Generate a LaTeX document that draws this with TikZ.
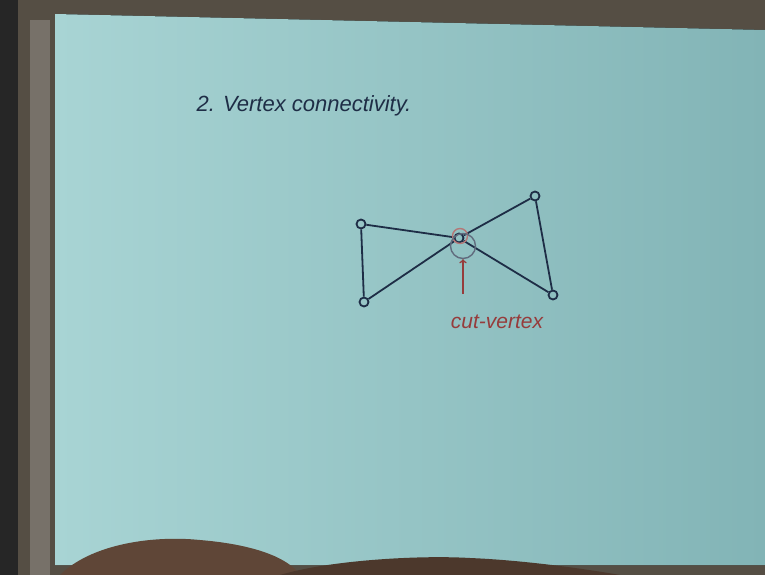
\documentclass[tikz,border=0pt]{standalone}
\usepackage{fontspec}
\setmainfont{Liberation Sans}
\begin{document}
\begin{tikzpicture}[x=1pt,y=-1pt,
  vtx/.style={circle,draw=ink,line width=1.8pt,inner sep=0pt,minimum size=9pt},
  edge/.style={draw=ink,line width=1.8pt},
  lbl/.style={text=ink,font=\fontsize{22}{26}\selectfont\itshape}]
\definecolor{ink}{RGB}{30,45,70}
\definecolor{redink}{RGB}{150,60,60}
\definecolor{paper}{RGB}{168,212,212}
\definecolor{papermid}{RGB}{155,200,200}
\definecolor{paperdark}{RGB}{130,180,182}
\definecolor{frame}{RGB}{85,78,68}
\definecolor{headc}{RGB}{95,70,55}
\useasboundingbox (0,0) rectangle (765,575);
\fill[black] (0,0) rectangle (765,575);
\fill[frame] (18,0) rectangle (765,575);
\fill[left color=paper, middle color=papermid, right color=paperdark] (55,14) -- (765,30) -- (765,565) -- (55,565) -- cycle;
\fill[black!85] (0,0) rectangle (18,575);
\fill[frame!80!white] (30,20) rectangle (50,575);
% head at bottom
\fill[headc] (60,575) .. controls (90,545) and (150,535) .. (200,540) .. controls (260,545) and (290,560) .. (300,575) -- cycle;
\fill[headc!80!black] (280,575) .. controls (330,560) and (420,555) .. (470,558) .. controls (520,560) and (580,568) .. (620,575) -- cycle;
% graph
\node[vtx] (a) at (361,224) {};
\node[vtx] (b) at (364,302) {};
\node[vtx] (c) at (459,238) {};
\node[vtx] (d) at (535,196) {};
\node[vtx] (e) at (553,295) {};
\draw[edge] (a) -- (b);
\draw[edge] (a) -- (c);
\draw[edge] (b) -- (c);
\draw[edge] (c) -- (d);
\draw[edge] (c) -- (e);
\draw[edge] (d) -- (e);
\node[circle,draw=redink!70,line width=1.4pt,minimum size=15pt,inner sep=0pt] (cc) at (460,236) {};
\node[circle,draw=ink!70,line width=1.4pt,minimum size=25pt,inner sep=0pt] (cb) at (463,246) {};
\node[text=redink,font=\fontsize{21}{24}\selectfont\itshape] (cut) at (497,322) {cut-vertex};
\coordinate (arrS) at (463,294);
\draw[redink,line width=1.6pt,->] (arrS) -- (cb.south);
\node[lbl,anchor=west] (title) at (193,106) {2. Vertex connectivity.};
\end{tikzpicture}
\end{document}
